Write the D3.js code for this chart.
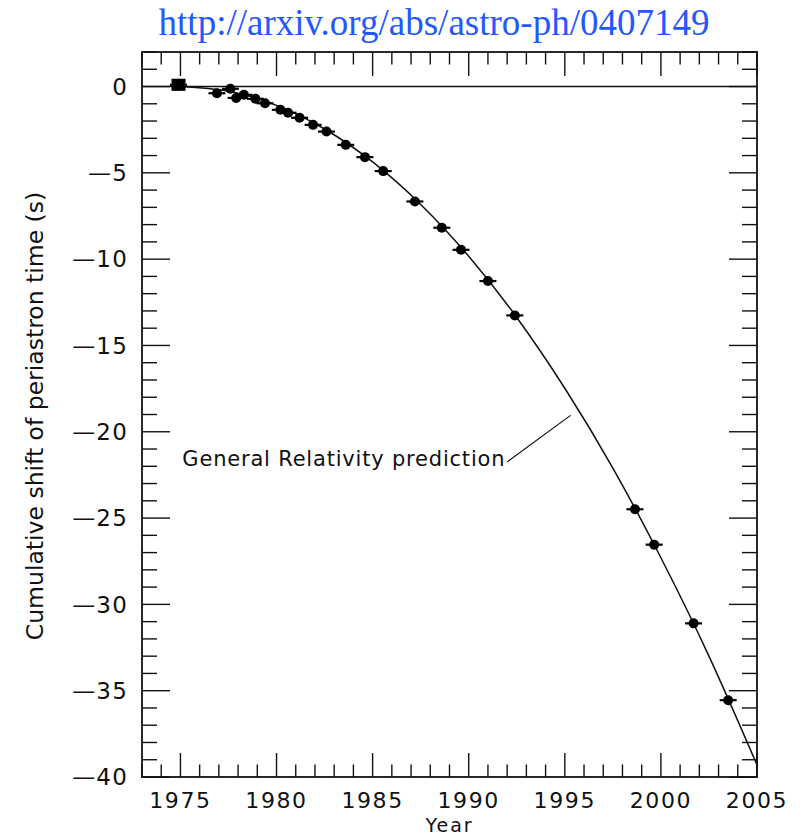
<!DOCTYPE html>
<html>
<head>
  <meta charset="utf-8">
  <style type="text/css">
	body { margin: 0; background: #fff; }
	svg { display: block; }
	.tick-label, .axis-title, .note { font-family: "DejaVu Sans", sans-serif; fill: #111; }
	</style>
</head>
<body>
<svg width="808" height="836"></svg>
<script src="https://d3js.org/d3.v7.min.js"></script>
<script>
	// measured timing residuals (year, cumulative shift in s, error in s)
	var years  = [1974.9, 1976.9, 1977.6, 1977.9, 1978.3, 1978.9, 1979.4, 1980.2, 1980.6, 1981.2, 1981.9, 1982.6, 1983.6, 1984.6, 1985.55, 1987.2, 1988.6, 1989.6, 1991.0, 1992.4, 1998.65, 1999.65, 2001.7, 2003.5];
	var shifts = [0.1, -0.39, -0.13, -0.66, -0.48, -0.71, -0.97, -1.35, -1.52, -1.81, -2.22, -2.61, -3.38, -4.09, -4.9, -6.66, -8.18, -9.46, -11.27, -13.26, -24.49, -26.54, -31.1, -35.55];
	var errors = [0.35, 0.15, 0.15, 0.15, 0.15, 0.15, 0.15, 0.15, 0.15, 0.15, 0.15, 0.15, 0.15, 0.15, 0.15, 0.15, 0.15, 0.15, 0.15, 0.15, 0.15, 0.15, 0.15, 0.15];

	// GR prediction curve
	var curveYears  = [1975, 1977.5, 1980, 1982.5, 1985, 1987.5, 1990, 1992.5, 1995, 1997.5, 2000, 2002.5, 2005];
	var curveShifts = [0, -0.27, -1.09, -2.46, -4.37, -6.83, -9.83, -13.38, -17.48, -22.1, -27.3, -33.0, -39.3];

	var xTicks = [1975, 1980, 1985, 1990, 1995, 2000, 2005];
	var yTicks = [0, -5, -10, -15, -20, -25, -30, -35, -40];

	var svg = d3.select("svg");

	var x = d3.scaleLinear().domain([1973, 2005]).range([142, 757]);
	var y = d3.scaleLinear().domain([2, -40]).range([52, 777]);

	var x0 = x.range()[0], x1 = x.range()[1],
		y0 = y.range()[0], y1 = y.range()[1];

	// title link
	svg.append("text")
		.attr("x", 434)
		.attr("y", 35)
		.attr("text-anchor", "middle")
		.attr("font-family", "Liberation Serif, Times New Roman, serif")
		.attr("font-size", 37)
		.attr("fill", "#2457ff")
		.text("http://arxiv.org/abs/astro-ph/0407149");

	var g = svg.append("g");

	// minor and major ticks on all four sides
	var xMinor = d3.range(1973, 2005.5, 1);
	var yMinor = d3.range(2, -40.5, -1);

	xMinor.forEach(function(t) {
		var len = (t % 5 === 0) ? 24 : 12.5;
		g.append("line").attr("x1", x(t)).attr("x2", x(t)).attr("y1", y1).attr("y2", y1 - len)
			.attr("stroke", "#111").attr("stroke-width", 1.4);
		g.append("line").attr("x1", x(t)).attr("x2", x(t)).attr("y1", y0).attr("y2", y0 + len)
			.attr("stroke", "#111").attr("stroke-width", 1.4);
	});
	yMinor.forEach(function(v) {
		var len = (v % 5 === 0) ? 28 : 15;
		g.append("line").attr("x1", x0).attr("x2", x0 + len).attr("y1", y(v)).attr("y2", y(v))
			.attr("stroke", "#111").attr("stroke-width", 1.4);
		g.append("line").attr("x1", x1).attr("x2", x1 - len).attr("y1", y(v)).attr("y2", y(v))
			.attr("stroke", "#111").attr("stroke-width", 1.4);
	});

	// frame
	g.append("rect")
		.attr("x", x0).attr("y", y0)
		.attr("width", x1 - x0).attr("height", y1 - y0)
		.attr("fill", "none").attr("stroke", "#111").attr("stroke-width", 1.8);

	// zero line
	g.append("line")
		.attr("x1", x0).attr("x2", x1)
		.attr("y1", y(0)).attr("y2", y(0))
		.attr("stroke", "#111").attr("stroke-width", 1.5);

	// tick labels
	g.selectAll(".xl").data(xTicks).enter().append("text")
		.attr("class", "tick-label")
		.attr("x", function(d) { return x(d); })
		.attr("y", 808)
		.attr("text-anchor", "middle")
		.attr("font-size", 22)
		.attr("letter-spacing", 1.6)
		.text(function(d) { return d; });

	g.selectAll(".yl").data(yTicks).enter().append("text")
		.attr("class", "tick-label")
		.attr("x", 128)
		.attr("y", function(d) { return y(d); })
		.attr("dy", "0.36em")
		.attr("text-anchor", "end")
		.attr("font-size", 23)
		.attr("letter-spacing", 1.2)
		.text(function(d) { return d === 0 ? "0" : "\u2014" + Math.abs(d); });

	// axis titles
	g.append("text")
		.attr("class", "axis-title")
		.attr("x", (x0 + x1) / 2)
		.attr("y", 831.5)
		.attr("text-anchor", "middle")
		.attr("font-size", 19)
		.attr("letter-spacing", 2)
		.text("Year");

	g.append("text")
		.attr("class", "axis-title")
		.attr("transform", "translate(43,416) rotate(-90)")
		.attr("text-anchor", "middle")
		.attr("font-size", 23.5)
		.text("Cumulative shift of periastron time (s)");

	// prediction curve
	var line = d3.line()
		.x(function(d, i) { return x(curveYears[i]); })
		.y(function(d) { return y(d); })
		.curve(d3.curveNatural);

	g.append("path")
		.datum(curveShifts)
		.attr("d", line)
		.attr("fill", "none")
		.attr("stroke", "#111")
		.attr("stroke-width", 1.5);

	// data points with error bars
	var pts = g.selectAll(".pt").data(years).enter().append("g").attr("class", "pt");

	pts.append("line")
		.attr("x1", function(d) { return x(d) - 8.5; })
		.attr("x2", function(d) { return x(d) + 8.5; })
		.attr("y1", function(d, i) { return y(shifts[i]); })
		.attr("y2", function(d, i) { return y(shifts[i]); })
		.attr("stroke", "#000").attr("stroke-width", 2.2);

	pts.append("line")
		.attr("x1", function(d) { return x(d); })
		.attr("x2", function(d) { return x(d); })
		.attr("y1", function(d, i) { return y(shifts[i] + errors[i]); })
		.attr("y2", function(d, i) { return y(shifts[i] - errors[i]); })
		.attr("stroke", "#000").attr("stroke-width", 2.2);

	pts.append("circle")
		.attr("cx", function(d) { return x(d); })
		.attr("cy", function(d, i) { return y(shifts[i]); })
		.attr("r", 5)
		.attr("fill", "#000");

	// first point has visible error caps
	g.append("rect")
		.attr("x", x(years[0]) - 7)
		.attr("y", y(shifts[0] + errors[0]))
		.attr("width", 14)
		.attr("height", y(shifts[0] - errors[0]) - y(shifts[0] + errors[0]))
		.attr("fill", "#000");

	// annotation
	g.append("text")
		.attr("class", "note")
		.attr("x", x(1975.1))
		.attr("y", y(-22.0))
		.attr("font-size", 21)
		.attr("letter-spacing", 0.8)
		.text("General Relativity prediction");

	g.append("line")
		.attr("x1", x(1992.0)).attr("y1", y(-21.75))
		.attr("x2", x(1995.3)).attr("y2", y(-19.05))
		.attr("stroke", "#111").attr("stroke-width", 1.2);
</script>
</body>
</html>
